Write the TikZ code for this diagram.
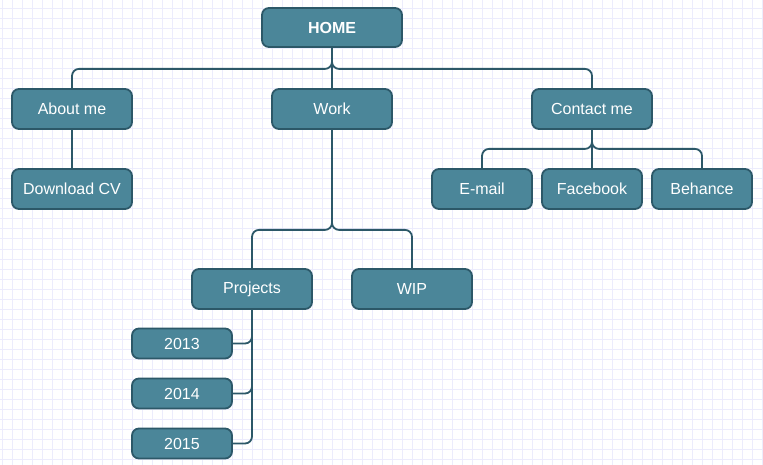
\documentclass[tikz,border=0pt]{standalone}
\usepackage{fontspec}
\setmainfont{Liberation Sans}
\definecolor{boxfill}{RGB}{75,134,153}
\definecolor{boxline}{RGB}{44,88,104}
\definecolor{gridc}{RGB}{236,236,252}
\begin{document}
\begin{tikzpicture}[x=1pt,y=-1pt,
  box/.style={draw=boxline, fill=boxfill, line width=1.8pt, rounded corners=7pt,
    text=white, font=\fontsize{16}{18}\selectfont, minimum width=120pt,
    minimum height=40pt, inner sep=0pt},
  smallbox/.style={box, minimum width=100pt},
  yearbox/.style={box, minimum width=100pt, minimum height=30pt},
  conn/.style={draw=boxline, line width=1.8pt, rounded corners=7pt}]
\useasboundingbox (0,0) rectangle (763,465);
\fill[white] (0,0) rectangle (763,465);
\foreach \x in {2,12,...,762} \draw[gridc, line width=1pt] (\x,0) -- (\x,465);
\foreach \y in {9,19,...,459} \draw[gridc, line width=1pt] (0,\y) -- (763,\y);

\node[box, font=\fontsize{16}{18}\selectfont\bfseries, minimum width=140pt, minimum height=39pt] (home) at (332,27.5) {HOME};
\node[box] (about) at (72,109) {About me};
\node[box] (work) at (332,109) {Work};
\node[box] (contact) at (592,109) {Contact me};
\node[box] (cv) at (72,189) {Download CV};
\node[smallbox] (email) at (482,189) {E-mail};
\node[smallbox] (fb) at (592,189) {Facebook};
\node[smallbox] (beh) at (702,189) {Behance};
\node[box] (proj) at (252,289) {Projects};
\node[box] (wip) at (412,289) {WIP};
\node[yearbox] (y13) at (182,343.5) {2013};
\node[yearbox] (y14) at (182,393.5) {2014};
\node[yearbox] (y15) at (182,443.5) {2015};

\draw[conn] (home.south) -- ++(0,21) -| (about.north);
\draw[conn] (home.south) -- ++(0,21) -| (contact.north);
\draw[conn] (home.south) -- (work.north);
\draw[conn] (about.south) -- (cv.north);
\draw[conn] (contact.south) -- ++(0,19) -| (email.north);
\draw[conn] (contact.south) -- ++(0,19) -| (beh.north);
\draw[conn] (contact.south) -- (fb.north);
\draw[conn] (work.south) -- ++(0,100) -| (proj.north);
\draw[conn] (work.south) -- ++(0,100) -| (wip.north);
\draw[conn] (proj.south) |- (y13.east);
\draw[conn] (proj.south) |- (y14.east);
\draw[conn] (proj.south) |- (y15.east);
\end{tikzpicture}
\end{document}
